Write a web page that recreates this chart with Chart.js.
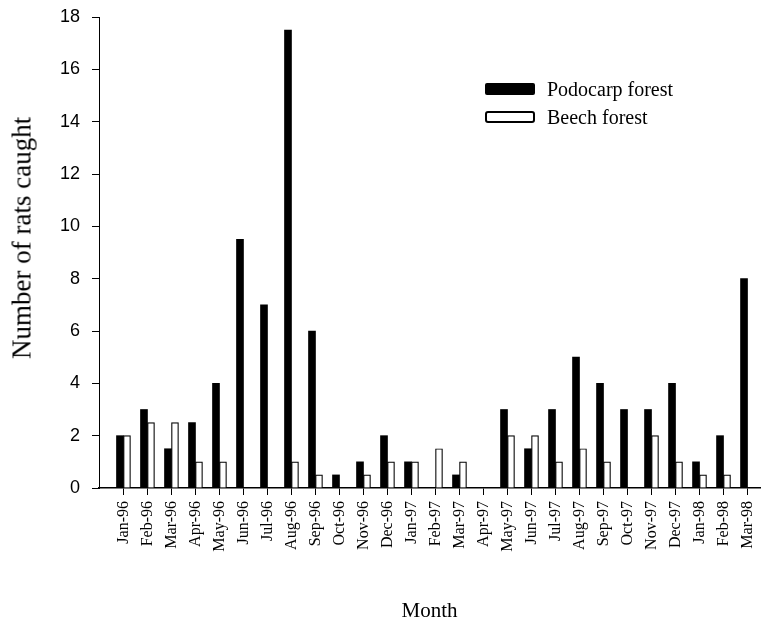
<!DOCTYPE html>
<html>
<head>
<meta charset="utf-8">
<script src="https://cdn.jsdelivr.net/npm/chart.js@4"></script>
<style>
  html, body { margin: 0; padding: 0; background: #fff; }
  #wrap { position: relative; width: 762px; height: 627px; }
  #legend { position: absolute; left: 485px; top: 75px; font-family: "Liberation Serif", "Times New Roman", serif; font-size: 20px; color: #000; }
  .item { display: flex; align-items: center; height: 28px; }
  .box { width: 50px; height: 12px; box-sizing: border-box; margin-right: 12px; border-radius: 2px; }
  .p { background: #000; }
  .b { background: #fff; border: 2px solid #000; border-radius: 3px; }
  #ytitle { position: absolute; left: 22px; top: 238px; transform: translate(-50%, -50%) rotate(-90deg); white-space: nowrap;
            font-family: "Liberation Serif", "Times New Roman", serif; font-size: 27px; color: #000; line-height: 1; }
</style>
</head>
<body>
<div id="wrap">
  <canvas id="c" width="762" height="627"></canvas>
  <div id="legend"></div>
  <div id="ytitle"></div>
</div>
<script>
const months = ["Jan-96","Feb-96","Mar-96","Apr-96","May-96","Jun-96","Jul-96","Aug-96","Sep-96","Oct-96","Nov-96","Dec-96",
  "Jan-97","Feb-97","Mar-97","Apr-97","May-97","Jun-97","Jul-97","Aug-97","Sep-97","Oct-97","Nov-97","Dec-97",
  "Jan-98","Feb-98","Mar-98"];
const podocarp = [2, 3, 1.5, 2.5, 4, 9.5, 7, 17.5, 6, 0.5, 1, 2, 1, 0, 0.5, 0, 3, 1.5, 3, 5, 4, 3, 3, 4, 1, 2, 8];
const beech    = [2, 2.5, 2.5, 1, 1, 0, 0, 1, 0.5, 0, 0.5, 1, 1, 1.5, 1, 0, 2, 2, 1, 1.5, 1, 0, 2, 1, 0.5, 0.5, 0];
const yTicks = [0, 2, 4, 6, 8, 10, 12, 14, 16, 18];
const seriesNames = ["Podocarp forest", "Beech forest"];
const xTitle = "Month";
const yTitle = "Number of rats caught";

document.getElementById('ytitle').textContent = yTitle;
const legend = document.getElementById('legend');
seriesNames.forEach((n, i) => {
  const d = document.createElement('div'); d.className = 'item';
  const b = document.createElement('span'); b.className = 'box ' + (i === 0 ? 'p' : 'b');
  const t = document.createElement('span'); t.textContent = n;
  d.appendChild(b); d.appendChild(t); legend.appendChild(d);
});

const toPts = arr => arr.map((v, i) => ({ x: i, y: v }));

new Chart(document.getElementById('c'), {
  type: 'bar',
  data: {
    datasets: [
      { label: seriesNames[0], data: toPts(podocarp), backgroundColor: '#000', borderColor: '#000', borderWidth: 0, barThickness: 7 },
      { label: seriesNames[1], data: toPts(beech), backgroundColor: '#fff', borderColor: '#000', borderWidth: 1.2, barThickness: 7 }
    ]
  },
  options: {
    responsive: false,
    devicePixelRatio: 1,
    animation: false,
    layout: { padding: { top: 17, right: 2, bottom: 0, left: 0 } },
    plugins: { legend: { display: false }, tooltip: { enabled: false } },
    scales: {
      x: {
        type: 'linear',
        offset: false,
        min: -1.02,
        max: 26.52,
        afterBuildTicks: s => { s.ticks = months.map((_, i) => ({ value: i })); },
        afterFit: s => { s.height = 139; s.paddingLeft = 0; s.paddingRight = 0; },
        grid: { display: true, offset: false, drawOnChartArea: false, drawTicks: true, tickLength: 7, color: '#000', lineWidth: 1 },
        border: { display: true, color: '#000', width: 1.5 },
        ticks: {
          autoSkip: false, maxRotation: 90, minRotation: 90, padding: 6,
          color: '#000', font: { family: '"Liberation Serif", serif', size: 16 },
          callback: v => months[v] !== undefined ? months[v] : ''
        },
        title: { display: true, text: xTitle, color: '#000', font: { family: '"Liberation Serif", serif', size: 21 }, padding: { top: 0, bottom: 3 } }
      },
      y: {
        min: 0, max: 18,
        afterBuildTicks: s => { s.ticks = yTicks.map(v => ({ value: v })); },
        afterFit: s => { s.width = 99; s.paddingTop = 0; s.paddingBottom = 0; },
        grid: { display: true, drawOnChartArea: false, drawTicks: true, tickLength: 7, color: '#000', lineWidth: 1 },
        border: { display: true, color: '#000', width: 1 },
        ticks: { padding: 12, color: '#000', font: { family: '"Liberation Sans", Arial, sans-serif', size: 18 } },
        title: { display: false }
      }
    }
  }
});
</script>
</body>
</html>
